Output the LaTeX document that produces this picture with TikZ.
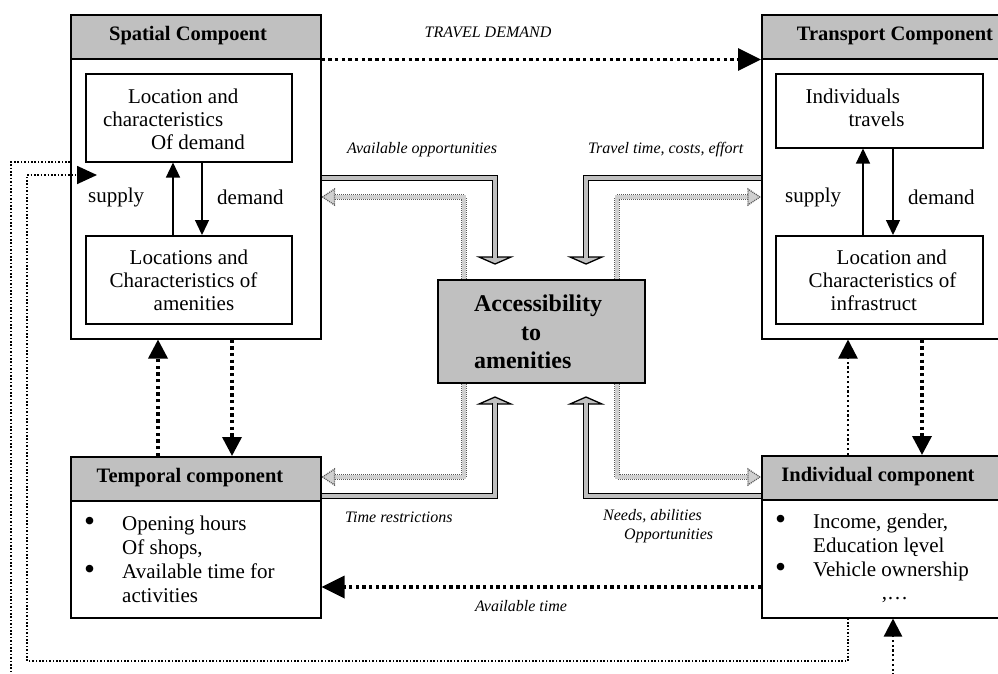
\documentclass[tikz,border=0pt]{standalone}
\usepackage{fontspec}
\setmainfont{Liberation Serif}
\usetikzlibrary{arrows.meta,calc}
\definecolor{hdr}{HTML}{C0C0C0}
\definecolor{dotfill}{HTML}{D0D0D0}
\definecolor{dotedge}{HTML}{555555}
\newcommand{\bigbul}{\raisebox{-1.6pt}{\scalebox{1.5}{\textbullet}}}
\begin{document}
\begin{tikzpicture}[x=1pt,y=-1pt,
  txt/.style={font=\fontsize{21}{23}\selectfont, inner sep=0pt},
  listtxt/.style={font=\fontsize{21}{24}\selectfont, inner sep=0pt, align=left, anchor=west},
  hdrtxt/.style={font=\fontsize{20.5}{23}\selectfont\bfseries, inner sep=0pt},
  lbl/.style={font=\fontsize{16}{19}\selectfont\itshape, inner sep=0pt},
  hdrbox/.style={draw, line width=1.5pt, fill=hdr, anchor=north west, inner sep=0pt},
  plainbox/.style={draw, line width=1.5pt, anchor=north west, inner sep=0pt},
  thickdot/.style={line width=3.5pt, dash pattern=on 3.4pt off 3.3pt},
  middot/.style={line width=2.4pt, dash pattern=on 2.2pt off 2.6pt},
  thindot/.style={line width=1.7pt, dash pattern=on 1.6pt off 1.8pt},
  bighead/.style={-{Triangle[length=23pt,width=22pt]}},
  vhead/.style={-{Triangle[length=19pt,width=19pt]}},
  sdarrow/.style={line width=1.3pt, -{Triangle[length=15pt,width=14pt]}},
  fat/.style={line width=1.3pt, double=hdr, double distance=3.4pt},
  fathead/.style={fill=hdr, draw, line width=1.3pt, line join=miter},
  gshaft/.style={draw=dotedge, line width=6pt, dash pattern=on 1pt off 1pt,
    postaction={draw=dotfill, line width=3.2pt, solid}},
  ghead/.style={fill=dotfill, draw=dotedge, line width=1.3pt, dash pattern=on 1pt off 1pt}
]
\useasboundingbox (0,0) rectangle (998,673);
\clip (0,0) rectangle (998,673);

% ---------- boxes ----------
\node[hdrbox, minimum width=250pt, minimum height=44pt] (spatialH) at (70,14) {};
\node[plainbox, minimum width=250pt, minimum height=280pt] (spatial) at (70,58) {};
\node[hdrbox, minimum width=262pt, minimum height=44pt] (transportH) at (761,14) {};
\node[plainbox, minimum width=262pt, minimum height=280pt] (transport) at (761,58) {};
\node[hdrbox, minimum width=250pt, minimum height=44pt] (temporalH) at (70,456) {};
\node[plainbox, minimum width=250pt, minimum height=117pt] (temporal) at (70,500) {};
\node[hdrbox, minimum width=262pt, minimum height=44pt] (individualH) at (761,455) {};
\node[plainbox, minimum width=262pt, minimum height=118pt] (individual) at (761,499) {};
\node[hdrbox, minimum width=207pt, minimum height=103pt] (access) at (437,279) {};

\node[plainbox, minimum width=206pt, minimum height=88pt] (spDem) at (85,73) {};
\node[plainbox, minimum width=206pt, minimum height=88pt] (spAme) at (85,235) {};
\node[plainbox, minimum width=207pt, minimum height=74pt] (trTrav) at (775,73) {};
\node[plainbox, minimum width=207pt, minimum height=88pt] (trInf) at (775,235) {};

% ---------- texts ----------
\node[hdrtxt] (spatialT) at (188,36) {Spatial Compoent};
\node[hdrtxt] (transportT) at (895,36) {Transport Component};
\node[hdrtxt] (temporalT) at (190,478) {Temporal component};
\node[hdrtxt] (individualT) at (878,477) {Individual component};
\node[font=\fontsize{24}{28.5}\selectfont\bfseries, align=left, inner sep=0pt] (accessT) at (538,332)
  {Accessibility\\\hspace*{47pt}to\\amenities};

\node[txt, align=left] (spDemT) at (174,119) {\hspace*{25pt}Location and\\characteristics\\\hspace*{48pt}Of demand};
\node[txt, align=left] (spAmeT) at (183.5,280) {\hspace*{20pt}Locations and\\Characteristics of\\\hspace*{44pt}amenities};
\node[txt, align=left] (trTravT) at (855,108) {Individuals\\\hspace*{43pt}travels};
\node[txt, align=left] (trInfT) at (882.5,280) {\hspace*{28pt}Location and\\Characteristics of\\\hspace*{22pt}infrastruct};

\node[txt, anchor=west] (spSup) at (88,197) {supply};
\node[txt, anchor=west] (spDemL) at (217,197) {demand};
\node[txt, anchor=west] (trSup) at (785,197) {supply};
\node[txt, anchor=west] (trDemL) at (908,197) {demand};

\node[listtxt] (temporalL) at (84,559) {\makebox[38pt][l]{\bigbul}Opening hours\\\hspace*{38pt}Of shops,\\\makebox[38pt][l]{\bigbul}Available time for\\\hspace*{38pt}activities};
\node[listtxt] (individualL) at (775,547) {\makebox[38pt][l]{\bigbul}Income, gender,\\\hspace*{38pt}Education lęvel\\\makebox[38pt][l]{\bigbul}Vehicle ownership};
\node[txt] (individualE) at (895,600) {,\ldots};

\node[lbl] (tdL) at (488,32) {TRAVEL DEMAND};
\node[lbl, anchor=west] (aoL) at (347,150) {Available opportunities};
\node[lbl, anchor=west] (ttL) at (588,150) {Travel time, costs, effort};
\node[lbl, anchor=west] (trL) at (345,517) {Time restrictions};
\node[lbl, anchor=west, align=left] (naL) at (603,526) {Needs, abilities\\\hspace*{21pt}Opportunities};
\node[lbl] (atL) at (521,606) {Available time};

% ---------- supply / demand arrows ----------
\coordinate (sxL) at (173,200);
\coordinate (dxL) at (202,200);
\coordinate (sxR) at (863,200);
\coordinate (dxR) at (893,200);
\draw[sdarrow] (spAme.north -| sxL) -- (spDem.south -| sxL);
\draw[sdarrow] (spDem.south -| dxL) -- (spAme.north -| dxL);
\draw[sdarrow] (trInf.north -| sxR) -- (trTrav.south -| sxR);
\draw[sdarrow] (trTrav.south -| dxR) -- (trInf.north -| dxR);

% ---------- thick dotted arrows ----------
\draw[thickdot, bighead] (spatialH.south east) -- (transportH.south west);
\coordinate (upL) at (158,400);
\coordinate (dnL) at (232,400);
\coordinate (upR) at (848,400);
\coordinate (dnR) at (922,400);
\draw[thickdot, vhead] (temporalH.north -| upL) -- (spatial.south -| upL);
\draw[thickdot, vhead] (spatial.south -| dnL) -- (temporalH.north -| dnL);
\draw[middot, vhead] (individualH.north -| upR) -- (transport.south -| upR);
\draw[thickdot, vhead] (transport.south -| dnR) -- (individualH.north -| dnR);
\coordinate (atY) at (540,587);
\draw[thickdot, bighead] (individual.west |- atY) -- (temporal.east |- atY);

% ---------- thin dotted loops ----------
\coordinate (lpA) at (848,661);
\coordinate (lpB) at (27,661);
\coordinate (lpC) at (27,175);
\coordinate (lpEnd) at (97,175);
\draw[thindot, -{Triangle[length=20pt,width=18pt]}] (individual.south -| lpA) -- (lpA) -- (lpB) -- (lpC) -- (lpEnd);
\coordinate (opA) at (11,162);
\coordinate (opEnd) at (11,690);
\draw[thindot] (spatial.west |- opA) -- (opA) -- (opEnd);
\coordinate (obStart) at (893,690);
\draw[middot, -{Triangle[length=18pt,width=18pt]}] (obStart) -- (individual.south -| obStart);

% ---------- fat solid arrows ----------
\coordinate (aBend) at (495,178); \coordinate (aTip) at (495,264);
\coordinate (bBend) at (586,178); \coordinate (bTip) at (586,264);
\coordinate (cBend) at (495,496); \coordinate (cTip) at (495,397);
\coordinate (dBend) at (586,496); \coordinate (dTip) at (586,397);
\filldraw[fathead] ($(aTip)+(-16,-7)$) -- ($(aTip)+(16,-7)$) -- (aTip) -- cycle;
\draw[fat] (spatial.east |- aBend) -- (aBend) -- ($(aTip)+(0,-6)$);
\filldraw[fathead] ($(bTip)+(-16,-7)$) -- ($(bTip)+(16,-7)$) -- (bTip) -- cycle;
\draw[fat] (transport.west |- bBend) -- (bBend) -- ($(bTip)+(0,-6)$);
\filldraw[fathead] ($(cTip)+(-16,7)$) -- ($(cTip)+(16,7)$) -- (cTip) -- cycle;
\draw[fat] (temporalH.east |- cBend) -- (cBend) -- ($(cTip)+(0,6)$);
\filldraw[fathead] ($(dTip)+(-16,7)$) -- ($(dTip)+(16,7)$) -- (dTip) -- cycle;
\draw[fat] (individualH.west |- dBend) -- (dBend) -- ($(dTip)+(0,6)$);

% ---------- gray dotted arrows ----------
\coordinate (eBend) at (464,197); \coordinate (eTip) at (spatial.east |- eBend);
\coordinate (fBend) at (617,197); \coordinate (fTip) at (transport.west |- fBend);
\coordinate (gBend) at (464,477); \coordinate (gTip) at (temporalH.east |- gBend);
\coordinate (hBend) at (617,477); \coordinate (hTip) at (individualH.west |- hBend);
\draw[gshaft] (access.north -| eBend) -- (eBend) -- ($(eTip)+(11,0)$);
\filldraw[ghead] ($(eTip)+(1,0)$) -- ($(eTip)+(13,-8)$) -- ($(eTip)+(13,8)$) -- cycle;
\draw[gshaft] (access.north -| fBend) -- (fBend) -- ($(fTip)+(-11,0)$);
\filldraw[ghead] ($(fTip)+(-1,0)$) -- ($(fTip)+(-13,-8)$) -- ($(fTip)+(-13,8)$) -- cycle;
\draw[gshaft] (access.south -| gBend) -- (gBend) -- ($(gTip)+(11,0)$);
\filldraw[ghead] ($(gTip)+(1,0)$) -- ($(gTip)+(13,-8)$) -- ($(gTip)+(13,8)$) -- cycle;
\draw[gshaft] (access.south -| hBend) -- (hBend) -- ($(hTip)+(-11,0)$);
\filldraw[ghead] ($(hTip)+(-1,0)$) -- ($(hTip)+(-13,-8)$) -- ($(hTip)+(-13,8)$) -- cycle;
\end{tikzpicture}
\end{document}
